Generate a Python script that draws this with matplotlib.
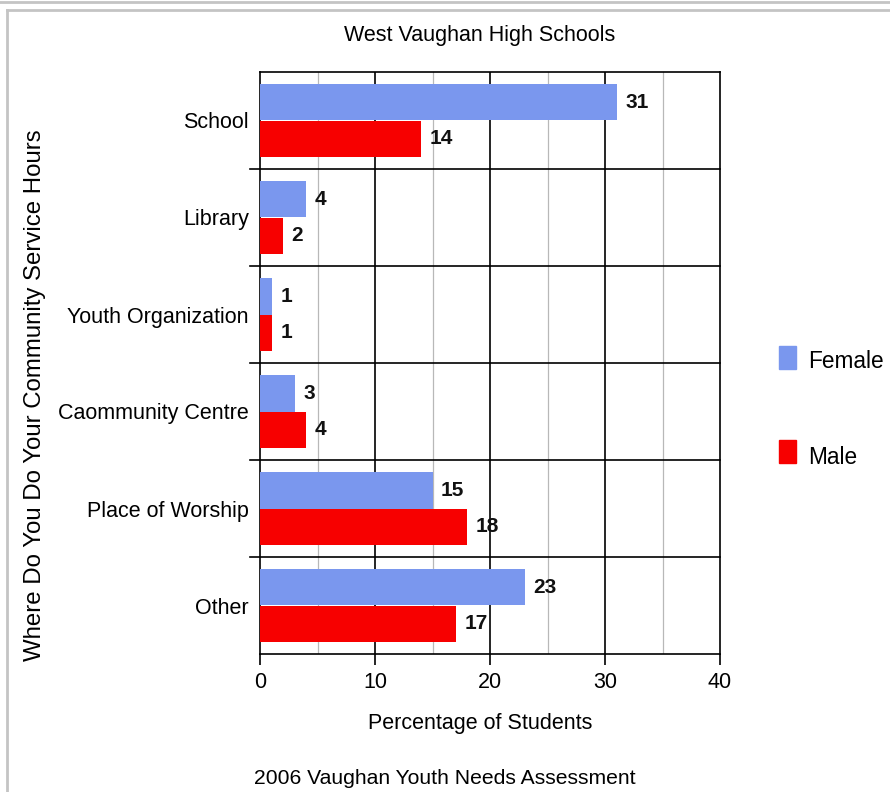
import matplotlib
matplotlib.use("Agg")
import matplotlib.pyplot as plt
from matplotlib.lines import Line2D
import numpy as np

plt.rcParams['font.family'] = ['Liberation Sans', 'DejaVu Sans']

categories = ["School", "Library", "Youth Organization", "Caommunity Centre",
              "Place of Worship", "Other"]
female = [31, 4, 1, 3, 15, 23]
male = [14, 2, 1, 4, 18, 17]
x_ticks = [0, 10, 20, 30, 40]

female_color = "#7a97ee"
male_color = "#f70000"
fs = 15.5

fig = plt.figure(figsize=(8.90, 7.92), dpi=100)
ax = fig.add_axes([260 / 890, 1 - 654 / 792, 460 / 890, 582 / 792])

y = np.arange(len(categories))
h = 0.38
ax.barh(y - h / 2, female, height=h, color=female_color, zorder=3, label="Female")
ax.barh(y + h / 2, male, height=h, color=male_color, zorder=3, label="Male")

for yi, v in zip(y, female):
    ax.text(v + 0.75, yi - h / 2, str(v), va="center", ha="left",
            fontsize=15, fontweight="bold", color="#111111", zorder=4)
for yi, v in zip(y, male):
    ax.text(v + 0.75, yi + h / 2, str(v), va="center", ha="left",
            fontsize=15, fontweight="bold", color="#111111", zorder=4)

ax.set_xlim(0, 40)
ax.set_ylim(len(categories) - 0.5, -0.5)

# vertical grid: dark at major, light at minor
for xv in [10, 20, 30]:
    ax.axvline(xv, color="black", lw=1.2, zorder=1)
for xv in [5, 15, 25, 35]:
    ax.axvline(xv, color="#b8b8b8", lw=0.9, zorder=1)
# category separators, extending a little left of the axis
for b in np.arange(0.5, len(categories) - 0.5, 1.0):
    ax.plot([-0.9, 40], [b, b], color="black", lw=1.2, zorder=2, clip_on=False)

for s in ax.spines.values():
    s.set_color("black")
    s.set_linewidth(1.2)

ax.set_xticks(x_ticks)
ax.set_xticklabels([str(t) for t in x_ticks], fontsize=fs)
ax.tick_params(axis="x", length=8, width=1.2, color="black", pad=5)
ax.set_yticks(y)
ax.set_yticklabels(categories, fontsize=fs)
ax.tick_params(axis="y", length=0, pad=8)

fig.text(480 / 890, 1 - 724 / 792, "Percentage of Students",
         ha="center", va="center", fontsize=fs)
fig.text(35 / 890, 1 - 395 / 792, "Where Do You Do Your Community Service Hours",
         rotation=90, ha="center", va="center", fontsize=17.3)
fig.text(480 / 890, 1 - 35 / 792, "West Vaughan High Schools",
         ha="center", va="center", fontsize=fs)
fig.text(445 / 890, 1 - 779 / 792, "2006 Vaughan Youth Needs Assessment",
         ha="center", va="center", fontsize=15.2)

# legend
fig.patches.append(plt.Rectangle((779 / 890, 1 - 369 / 792), 17 / 890, 23 / 792,
                                 transform=fig.transFigure, color=female_color))
fig.patches.append(plt.Rectangle((779 / 890, 1 - 463 / 792), 17 / 890, 23 / 792,
                                 transform=fig.transFigure, color=male_color))
fig.text(808 / 890, 1 - 361 / 792, "Female", ha="left", va="center", fontsize=16.3)
fig.text(808 / 890, 1 - 458 / 792, "Male", ha="left", va="center", fontsize=16.3)

# page frame
fig.add_artist(Line2D([0, 1], [1 - 2 / 792, 1 - 2 / 792], transform=fig.transFigure,
                      color="#c4c4c4", lw=2))
fig.add_artist(Line2D([7 / 890, 1], [1 - 10 / 792, 1 - 10 / 792], transform=fig.transFigure,
                      color="#c4c4c4", lw=2))
fig.add_artist(Line2D([7 / 890, 7 / 890], [0, 1 - 10 / 792], transform=fig.transFigure,
                      color="#c4c4c4", lw=2))

fig.savefig("out.png", dpi=100)
